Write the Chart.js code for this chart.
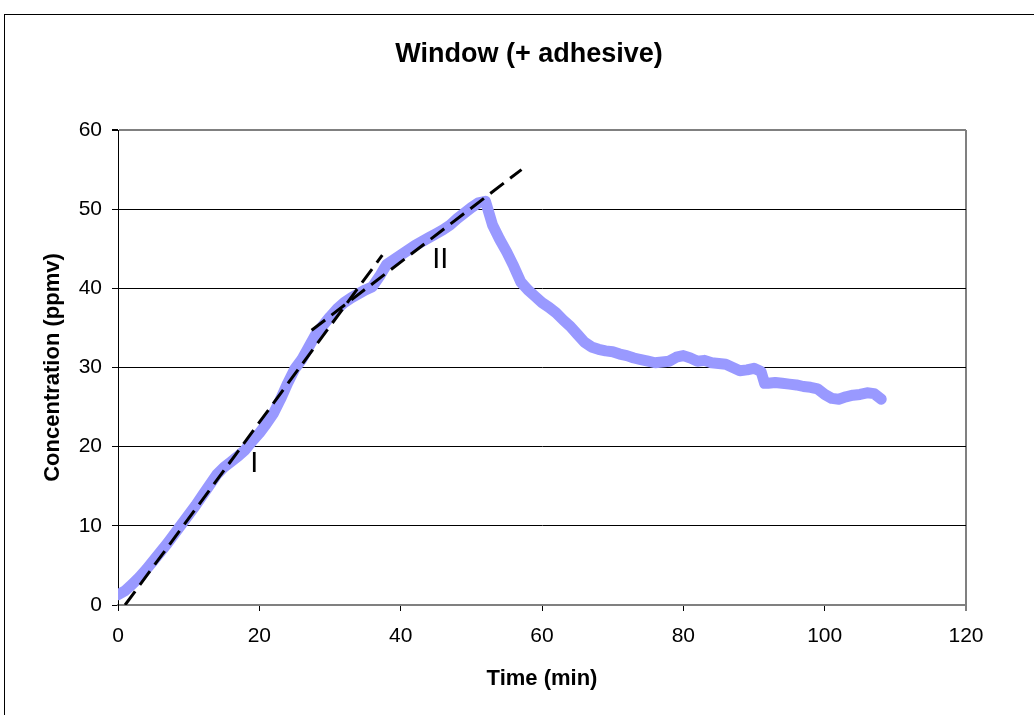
<!DOCTYPE html>
<html>
<head>
<meta charset="utf-8">
<script src="https://cdn.jsdelivr.net/npm/chart.js@4/dist/chart.umd.min.js"></script>
<style>
  html, body { margin: 0; padding: 0; background: #ffffff; }
  #wrap { width: 1034px; height: 715px; }
</style>
</head>
<body>
<div id="wrap"><canvas id="c" width="1034" height="715"></canvas></div>
<script>
// ---- Data ----
const chartTitle = "Window (+ adhesive)";
const xAxisTitle = "Time (min)";
const yAxisTitle = "Concentration (ppmv)";

const timeMin = [0, 1, 2, 3, 4, 5, 6, 7, 8, 9, 10, 11, 12, 13, 14, 15, 16, 17, 18, 19,
  20, 21, 22, 23, 24, 25, 26, 27, 28, 29, 30, 31, 32, 33, 34, 35, 36, 37, 38, 39,
  40, 41, 42, 43, 44, 45, 46, 47, 48, 49, 50, 51, 52, 52.5, 53, 54, 55, 56, 57, 58, 59,
  60, 61, 62, 63, 64, 65, 66, 67, 68, 69, 70, 71, 72, 73, 74, 75, 76, 77, 78, 79,
  80, 81, 82, 83, 84, 85, 86, 87, 88, 89, 90, 91, 91.5, 92, 93, 94, 95, 96, 97, 98, 99,
  100, 101, 102, 103, 104, 105, 106, 107, 108];
const concentration = [1.3, 1.8, 2.6, 3.5, 4.5, 5.6, 6.7, 7.8, 9.0, 10.2, 11.4, 12.6, 13.9, 15.2, 16.5, 17.4, 18.1, 18.8, 19.6, 20.7,
  21.7, 22.9, 24.2, 26.0, 28.0, 29.8, 31.0, 32.6, 34.2, 35.3, 36.4, 37.4, 38.2, 38.8, 39.3, 39.8, 40.2, 41.5, 43.0, 43.6,
  44.2, 44.8, 45.4, 45.9, 46.4, 46.9, 47.4, 48.0, 48.8, 49.5, 50.2, 50.8, 51.0, 49.5, 48.0, 46.2, 44.6, 42.8, 40.8, 39.8, 39.0,
  38.2, 37.6, 36.9, 36.0, 35.2, 34.2, 33.2, 32.6, 32.3, 32.1, 32.0, 31.7, 31.5, 31.2, 31.0, 30.8, 30.6, 30.7, 30.8, 31.3,
  31.5, 31.2, 30.8, 30.9, 30.6, 30.5, 30.4, 30.0, 29.6, 29.7, 29.9, 29.5, 28.0, 28.0, 28.1, 28.0, 27.9, 27.8, 27.6, 27.5, 27.3,
  26.6, 26.1, 26.0, 26.3, 26.5, 26.6, 26.8, 26.7, 26.0];

// Trend line I (start/end) and trend line II (start/end)
const trendIx = [1.0, 37.4];
const trendIy = [0, 44.2];
const trendIIx = [27.4, 57.1];
const trendIIy = [34.7, 55.0];

// Segment labels
const labelText = ["I", "II"];
const labelX = [19.3, 45.6];
const labelY = [17.8, 43.6];

const xTicks = [0, 20, 40, 60, 80, 100, 120];
const yTicks = [0, 10, 20, 30, 40, 50, 60];

// ---- Build chart ----
const FONT = "'Liberation Sans', Arial, Helvetica, sans-serif";
const toPts = (xs, ys) => xs.map((x, i) => ({ x: x, y: ys[i] }));

const framePlugin = {
  id: 'frame',
  beforeDraw(chart) {
    const ctx = chart.ctx;
    ctx.save();
    ctx.strokeStyle = '#000000';
    ctx.lineWidth = 1;
    ctx.strokeRect(4.5, 14.5, 1200, 900);
    ctx.restore();
  },
  afterDraw(chart) {
    const ctx = chart.ctx;
    ctx.save();
    ctx.fillStyle = '#000000';
    ctx.font = "bold 27px " + FONT;
    ctx.textAlign = 'center';
    ctx.textBaseline = 'alphabetic';
    ctx.fillText(chartTitle, 529, 62);
    ctx.restore();
  }
};

const labelPlugin = {
  id: 'segLabels',
  afterDatasetsDraw(chart) {
    const ctx = chart.ctx;
    const xs = chart.scales.x, ys = chart.scales.y;
    ctx.save();
    ctx.fillStyle = '#000000';
    ctx.font = "29px " + FONT;
    ctx.textAlign = 'center';
    ctx.textBaseline = 'middle';
    labelText.forEach((t, i) => {
      ctx.fillText(t, xs.getPixelForValue(labelX[i]), ys.getPixelForValue(labelY[i]));
    });
    ctx.restore();
  }
};

new Chart(document.getElementById('c'), {
  type: 'scatter',
  data: {
    datasets: [
      {
        label: 'Concentration',
        data: toPts(timeMin, concentration),
        showLine: true,
        borderColor: '#9999FF',
        backgroundColor: '#9999FF',
        borderWidth: 11,
        pointRadius: 0,
        tension: 0,
        borderJoinStyle: 'round',
        borderCapStyle: 'round',
        order: 2
      },
      {
        label: 'Trend I',
        data: toPts(trendIx, trendIy),
        showLine: true,
        borderColor: '#000000',
        borderWidth: 3,
        borderDash: [17, 8],
        pointRadius: 0,
        order: 1
      },
      {
        label: 'Trend II',
        data: toPts(trendIIx, trendIIy),
        showLine: true,
        borderColor: '#000000',
        borderWidth: 3,
        borderDash: [17, 8],
        pointRadius: 0,
        order: 1
      }
    ]
  },
  options: {
    responsive: false,
    animation: false,
    devicePixelRatio: 1,
    layout: { padding: { left: 0, right: 68, top: 130, bottom: 0 } },
    plugins: {
      legend: { display: false },
      tooltip: { enabled: false },
      title: { display: false }
    },
    scales: {
      x: {
        type: 'linear',
        min: 0, max: 120,
        afterBuildTicks(scale) { scale.ticks = xTicks.map(v => ({ value: v })); },
        afterFit(scale) { scale.height = 110; },
        ticks: {
          color: '#000000',
          font: { family: FONT, size: 21 },
          padding: 13,
          maxRotation: 0
        },
        grid: {
          color: ctx => (ctx.tick && ctx.tick.value === 120) ? '#808080' : 'rgba(0,0,0,0)',
          lineWidth: ctx => (ctx.tick && ctx.tick.value === 120) ? 2 : 1,
          tickColor: '#000000',
          tickLength: 6,
          tickWidth: 1,
          drawTicks: true
        },
        border: { display: true, color: '#808080', width: 2 },
        title: {
          display: true,
          text: xAxisTitle,
          color: '#000000',
          font: { family: FONT, size: 22, weight: 'bold', lineHeight: 1.2 },
          padding: { top: 0, bottom: 23 }
        }
      },
      y: {
        type: 'linear',
        min: 0, max: 60,
        afterBuildTicks(scale) { scale.ticks = yTicks.map(v => ({ value: v })); },
        afterFit(scale) { scale.width = 118; },
        ticks: {
          color: '#000000',
          font: { family: FONT, size: 21 },
          padding: 10
        },
        grid: {
          color: ctx => (ctx.tick && ctx.tick.value === 60) ? '#808080' : (ctx.tick && ctx.tick.value === 0 ? 'rgba(0,0,0,0)' : '#000000'),
          lineWidth: ctx => (ctx.tick && ctx.tick.value === 60) ? 2 : 1,
          tickColor: '#000000',
          tickLength: 6,
          drawTicks: true
        },
        border: { display: true, color: '#000000', width: 1 },
        title: {
          display: true,
          text: yAxisTitle,
          color: '#000000',
          font: { family: FONT, size: 22, weight: 'bold', lineHeight: 1.2 },
          padding: { top: 40, bottom: 0 }
        }
      }
    }
  },
  plugins: [framePlugin, labelPlugin]
});
</script>
</body>
</html>
